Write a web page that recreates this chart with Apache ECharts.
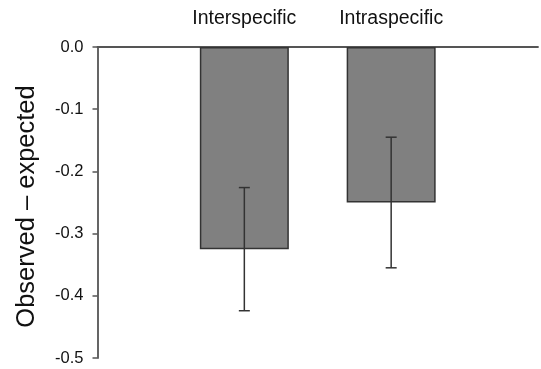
<!DOCTYPE html>
<html>
<head>
<meta charset="utf-8">
<script src="https://cdn.jsdelivr.net/npm/echarts@6/dist/echarts.min.js"></script>
<style>html,body{margin:0;padding:0;background:#fff;}#c{width:541px;height:369px;}</style>
</head>
<body>
<div id="c"></div>
<script>
const categories = ['', 'Interspecific', 'Intraspecific', ''];
const means = [null, -0.325, -0.25, null];
const errors = [null, 0.099, 0.105, null];
const yTicks = { min: -0.5, max: 0, interval: 0.1 };

const errData = [];
categories.forEach((c, i) => {
  if (means[i] !== null) errData.push([i, means[i] - errors[i], means[i] + errors[i]]);
});

const chart = echarts.init(document.getElementById('c'));
chart.setOption({
  animation: false,
  grid: { left: 97.5, width: 445.5, top: 47, bottom: 11, containLabel: false },
  xAxis: {
    type: 'category',
    position: 'top',
    data: categories,
    boundaryGap: false,
    axisLine: { show: true, lineStyle: { color: '#555', width: 1.8 } },
    axisTick: { show: false },
    axisLabel: { color: '#111', fontSize: 19.5, fontFamily: 'Liberation Sans, Arial, sans-serif', margin: 18, interval: 0 },
    splitLine: { show: false }
  },
  yAxis: {
    type: 'value',
    min: yTicks.min, max: yTicks.max, interval: yTicks.interval,
    name: 'Observed \u2013 expected',
    nameLocation: 'middle',
    nameGap: 58,
    nameRotate: 90,
    nameTextStyle: { color: '#111', fontSize: 25.5, fontFamily: 'Liberation Sans, Arial, sans-serif', padding: [0, 8, 0, 0] },
    axisLine: { show: true, lineStyle: { color: '#555', width: 1.8 } },
    axisTick: { show: true, length: 5, lineStyle: { color: '#555', width: 1.5 } },
    axisLabel: { color: '#111', fontSize: 16.5, fontFamily: 'Liberation Sans, Arial, sans-serif', margin: 14,
      formatter: v => v.toFixed(1) },
    splitLine: { show: false }
  },
  series: [
    {
      type: 'bar',
      data: means,
      barWidth: 89,
      itemStyle: { color: '#808080', borderColor: '#333', borderWidth: 1.5 },
      z: 2
    },
    {
      type: 'custom',
      data: errData,
      z: 3,
      renderItem: (params, api) => {
        const x = api.value(0);
        const lo = api.coord([x, api.value(1)]);
        const hi = api.coord([x, api.value(2)]);
        const cap = 5.5;
        const style = { stroke: '#333', lineWidth: 1.5 };
        return {
          type: 'group',
          children: [
            { type: 'line', shape: { x1: lo[0], y1: lo[1], x2: hi[0], y2: hi[1] }, style },
            { type: 'line', shape: { x1: lo[0] - cap, y1: lo[1], x2: lo[0] + cap, y2: lo[1] }, style },
            { type: 'line', shape: { x1: hi[0] - cap, y1: hi[1], x2: hi[0] + cap, y2: hi[1] }, style }
          ]
        };
      }
    }
  ]
});
</script>
</body>
</html>
